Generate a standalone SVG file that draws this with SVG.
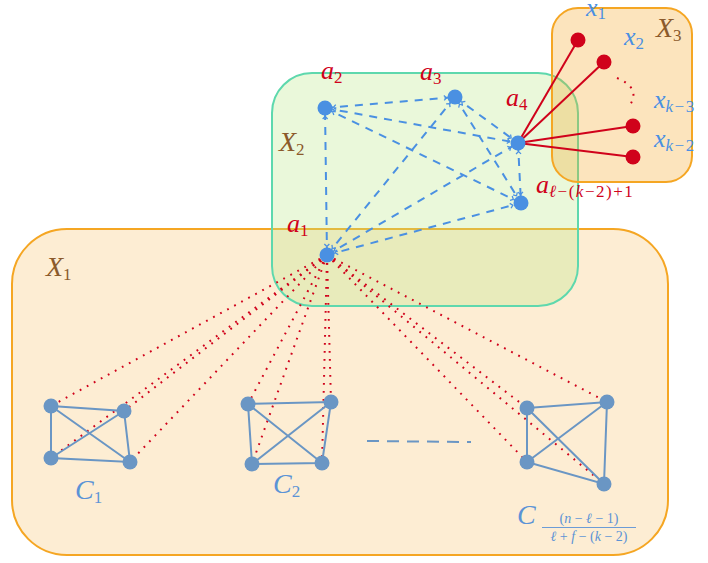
<svg xmlns="http://www.w3.org/2000/svg" width="708" height="563" viewBox="0 0 708 563">
<defs>
<marker id="tick" viewBox="0 0 16 8" markerWidth="16" markerHeight="8" refX="12.5" refY="4" orient="auto-start-reverse" markerUnits="userSpaceOnUse">
<path d="M1.5,1.5 L4,4 L1.5,6.5" fill="none" stroke="#4a90e2" stroke-width="1.3"/>
</marker>
<style>
.set{stroke-width:2}
.x1{fill:#f5a623;fill-opacity:0.2;stroke:#f5a623}
.x2{fill:#b8e986;fill-opacity:0.3;stroke:#5ed8ad}
.x3{fill:#f5a623;fill-opacity:0.3;stroke:#f5a623}
.dash{stroke:#4a90e2;stroke-width:2;stroke-dasharray:8 7;fill:none;marker-start:url(#tick);marker-end:url(#tick)}
.dot{stroke:#d0021b;stroke-width:2;stroke-dasharray:1.8 6.2;fill:none}
.red{stroke:#d0021b;stroke-width:2;fill:none}
.ce{stroke:#6a96c4;stroke-width:2;fill:none}
.cn{fill:#6a96c4}
.an{fill:#4a90e2}
.xn{fill:#d0021b}
text{font-family:"Liberation Serif","DejaVu Serif",serif}
.v{font-style:italic;font-size:26px}
.V{font-style:italic;font-size:28px}
.s{font-size:17px;font-style:normal}
.si{font-size:17px;font-style:italic}
.w{letter-spacing:1.5px}
.lr{fill:#d0021b}
.lb{fill:#4a90e2}
.lc{fill:#5b93d6}
.lx{fill:#8b5a2b}
</style>
</defs>
<g id="X1"><rect class="set x1" x="12" y="229" width="656" height="326" rx="55"/>
<text class="V lx" x="46" y="276">X<tspan class="s" dy="4">1</tspan></text></g>
<g id="X2"><rect class="set x2" x="272" y="73" width="306" height="233" rx="40"/>
<text class="V lx" x="279" y="151">X<tspan class="s" dy="4">2</tspan></text></g>
<g id="X3"><rect class="set x3" x="552" y="8" width="140" height="174" rx="26"/>
<text class="V lx" x="656" y="37">X<tspan class="s" dy="4">3</tspan></text></g>
<g id="connectors">
<line class="dot" x1="327" y1="255" x2="51" y2="406"/>
<line class="dot" x1="327" y1="255" x2="124" y2="411"/>
<line class="dot" x1="327" y1="255" x2="51" y2="458"/>
<line class="dot" x1="327" y1="255" x2="130" y2="462"/>
<line class="dot" x1="327" y1="255" x2="248" y2="404"/>
<line class="dot" x1="327" y1="255" x2="331" y2="402"/>
<line class="dot" x1="327" y1="255" x2="252" y2="464"/>
<line class="dot" x1="327" y1="255" x2="322" y2="463"/>
<line class="dot" x1="327" y1="255" x2="527" y2="408"/>
<line class="dot" x1="327" y1="255" x2="607" y2="402"/>
<line class="dot" x1="327" y1="255" x2="527" y2="462"/>
<line class="dot" x1="327" y1="255" x2="604" y2="484"/>
<line class="dash" x1="327" y1="255" x2="325" y2="108"/>
<line class="dash" x1="325" y1="108" x2="455" y2="97"/>
<line class="dash" x1="325" y1="108" x2="518" y2="143"/>
<line class="dash" x1="325" y1="108" x2="521" y2="203"/>
<line class="dash" x1="455" y1="97" x2="518" y2="143"/>
<line class="dash" x1="455" y1="97" x2="521" y2="203"/>
<line class="dash" x1="327" y1="255" x2="455" y2="97"/>
<line class="dash" x1="327" y1="255" x2="518" y2="143"/>
<line class="dash" x1="327" y1="255" x2="521" y2="203"/>
<line class="dash" x1="518" y1="143" x2="521" y2="203"/>
<line class="red" x1="518" y1="143" x2="578" y2="40"/>
<line class="red" x1="518" y1="143" x2="604" y2="62"/>
<line class="red" x1="518" y1="143" x2="633" y2="126"/>
<line class="red" x1="518" y1="143" x2="633" y2="157"/>
<path class="dot" stroke-width="1.8" d="M617,78 Q641,88 630,105"/>
<line class="ce" x1="367" y1="441" x2="471" y2="442" stroke-dasharray="12 8"/>
</g>
<g id="C1">
<path class="ce" d="M51,406 L124,411 L130,462 L51,458 Z M51,406 L130,462 M124,411 L51,458"/>
<circle class="cn" cx="51" cy="406" r="7.5"/><circle class="cn" cx="124" cy="411" r="7.5"/>
<circle class="cn" cx="51" cy="458" r="7.5"/><circle class="cn" cx="130" cy="462" r="7.5"/>
<text class="V lc" x="75" y="499">C<tspan class="s" dy="4">1</tspan></text>
</g>
<g id="C2">
<path class="ce" d="M248,404 L331,402 L322,463 L252,464 Z M248,404 L322,463 M331,402 L252,464"/>
<circle class="cn" cx="248" cy="404" r="7.5"/><circle class="cn" cx="331" cy="402" r="7.5"/>
<circle class="cn" cx="252" cy="464" r="7.5"/><circle class="cn" cx="322" cy="463" r="7.5"/>
<text class="V lc" x="273" y="493">C<tspan class="s" dy="4">2</tspan></text>
</g>
<g id="C3">
<path class="ce" d="M527,408 L607,402 L604,484 L527,462 Z M527,408 L604,484 M607,402 L527,462"/>
<circle class="cn" cx="527" cy="408" r="7.5"/><circle class="cn" cx="607" cy="402" r="7.5"/>
<circle class="cn" cx="527" cy="462" r="7.5"/><circle class="cn" cx="604" cy="484" r="7.5"/>
<text class="V lc" x="517" y="524">C</text>
<text class="lc" x="589" y="523" font-size="14" text-anchor="middle">(<tspan font-style="italic">n</tspan> − <tspan font-style="italic">ℓ</tspan> − 1)</text>
<line x1="542" y1="527.5" x2="636" y2="527.5" stroke="#5b93d6" stroke-width="0.9"/>
<text class="lc" x="589" y="541" font-size="14" text-anchor="middle"><tspan font-style="italic">ℓ</tspan> + <tspan font-style="italic">f</tspan> − (<tspan font-style="italic">k</tspan> − 2)</text>
</g>
<g id="a1"><circle class="an" cx="327" cy="255" r="7.5"/>
<text class="v lr" x="287" y="232">a<tspan class="s" dy="4">1</tspan></text></g>
<g id="a2"><circle class="an" cx="325" cy="108" r="7.5"/>
<text class="v lr" x="321" y="79">a<tspan class="s" dy="4">2</tspan></text></g>
<g id="a3"><circle class="an" cx="455" cy="97" r="7.5"/>
<text class="v lr" x="420" y="80">a<tspan class="s" dy="4">3</tspan></text></g>
<g id="a4"><circle class="an" cx="518" cy="143" r="7.5"/>
<text class="v lr" x="506" y="106">a<tspan class="s" dy="4">4</tspan></text></g>
<g id="al"><circle class="an" cx="521" cy="203" r="7.5"/>
<text class="v lr" x="536" y="193">a<tspan class="si w" dy="4">ℓ</tspan><tspan class="s w">−(</tspan><tspan class="si w">k</tspan><tspan class="s w">−2)+1</tspan></text></g>
<g id="x1"><circle class="xn" cx="578" cy="40" r="7.5"/>
<text class="v lb" x="586" y="16">x<tspan class="s" dy="3">1</tspan></text></g>
<g id="x2"><circle class="xn" cx="604" cy="62" r="7.5"/>
<text class="v lb" x="624" y="45">x<tspan class="s" dy="4">2</tspan></text></g>
<g id="xk3"><circle class="xn" cx="633" cy="126" r="7.5"/>
<text class="v lb" x="654" y="108">x<tspan class="si w" dy="4">k</tspan><tspan class="s w">−3</tspan></text></g>
<g id="xk2"><circle class="xn" cx="633" cy="157" r="7.5"/>
<text class="v lb" x="654" y="147">x<tspan class="si w" dy="4">k</tspan><tspan class="s w">−2</tspan></text></g>
</svg>
